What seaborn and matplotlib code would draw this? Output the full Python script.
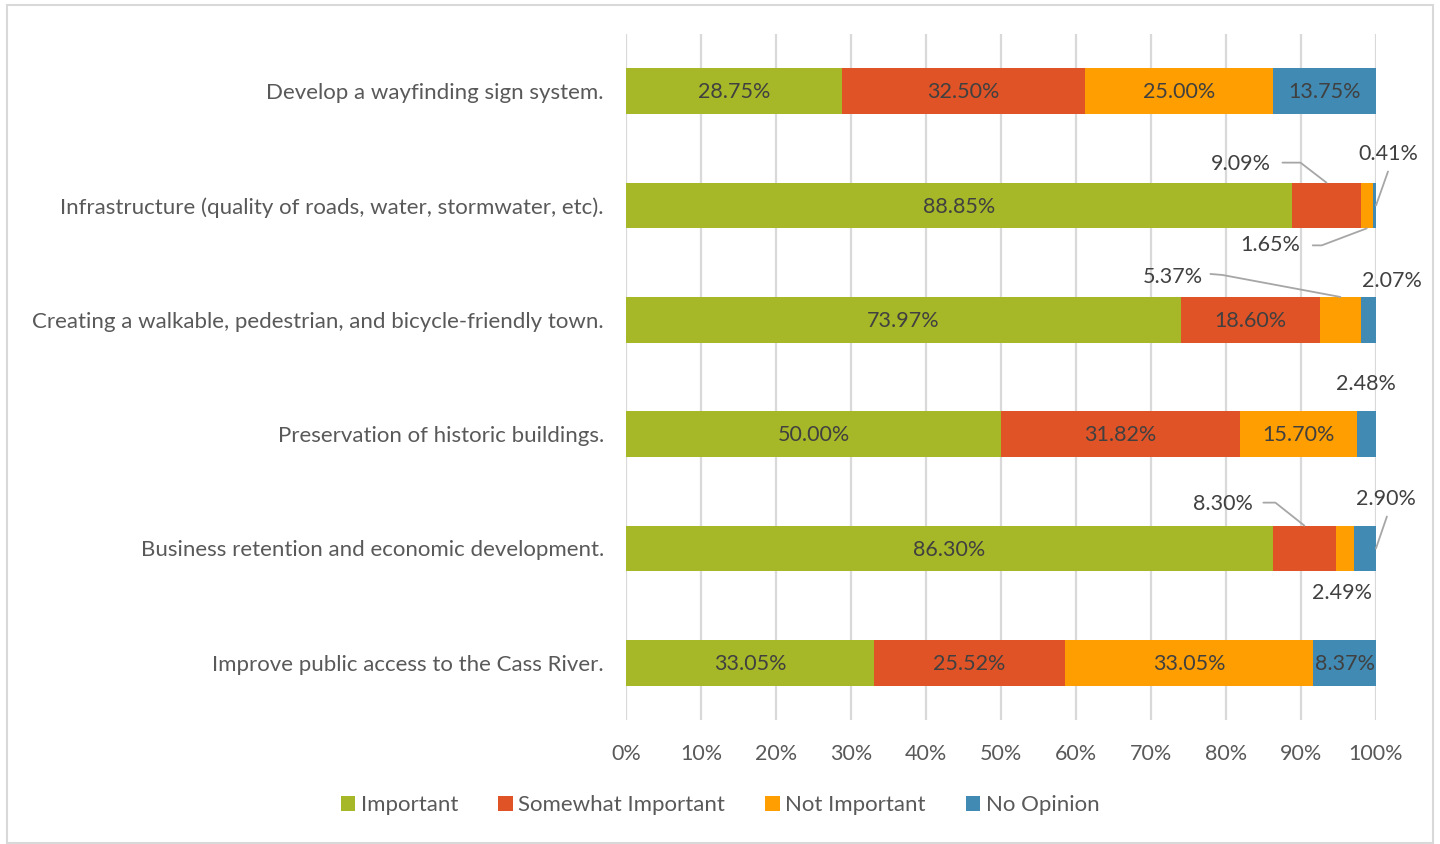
import numpy as np
import pandas as pd
import matplotlib
matplotlib.use("Agg")
import matplotlib.pyplot as plt
from matplotlib.patches import Rectangle, Patch
import seaborn as sns

# Survey items (top to bottom) and response shares in percent
items = [
    "Develop a wayfinding sign system.",
    "Infrastructure (quality of roads, water, stormwater, etc).",
    "Creating a walkable, pedestrian, and bicycle-friendly town.",
    "Preservation of historic buildings.",
    "Business retention and economic development.",
    "Improve public access to the Cass River.",
]
important = [28.75, 88.85, 73.97, 50.00, 86.30, 33.05]
somewhat_important = [32.50, 9.09, 18.60, 31.82, 8.30, 25.52]
not_important = [25.00, 1.65, 5.37, 15.70, 2.49, 33.05]
no_opinion = [13.75, 0.41, 2.07, 2.48, 2.90, 8.37]

series_names = ["Important", "Somewhat Important", "Not Important", "No Opinion"]
series_values = [important, somewhat_important, not_important, no_opinion]
colors = ["#A6B727", "#DF5327", "#FE9E00", "#418AB3"]

TEXT = "#404040"
AXIS_TEXT = "#595959"
GRID = "#D9D9D9"
LEADER = "#A6A6A6"

sns.set_theme(style="white")
plt.rcParams["font.family"] = ["Lato", "DejaVu Sans"]

W, H = 1440, 844
fig = plt.figure(figsize=(W / 100, H / 100), dpi=100)
ax_left, ax_right, ax_top, ax_bottom = 626, 1376, 34, 720
ax = fig.add_axes([ax_left / W, 1 - ax_bottom / H,
                   (ax_right - ax_left) / W, (ax_bottom - ax_top) / H])

# Stacked bars drawn as cumulative layers, longest first
values = np.array(series_values)            # shape (4, n_items)
cum = np.cumsum(values, axis=0)
bar_h = 0.40
for k in range(len(series_names) - 1, -1, -1):
    df = pd.DataFrame({"item": items, "value": cum[k]})
    sns.barplot(data=df, x="value", y="item", order=items, orient="h",
                color=colors[k], width=bar_h, saturation=1, ax=ax,
                edgecolor="none", linewidth=0, zorder=3)

ax.set_xlim(0, 100)
ax.set_ylim(len(items) - 0.5, -0.5)
ax.set_xticks(np.arange(0, 101, 10))
ax.set_xticklabels([f"{t}%" for t in range(0, 101, 10)])
ax.set_xlabel("")
ax.set_ylabel("")
for s in ax.spines.values():
    s.set_visible(False)
ax.grid(axis="x", color=GRID, linewidth=1.6, zorder=0)
ax.grid(axis="y", visible=False)
ax.set_axisbelow(True)
ax.tick_params(axis="x", length=0, pad=17, labelsize=15.5, labelcolor=AXIS_TEXT)
ax.tick_params(axis="y", length=0, pad=16, labelsize=16, labelcolor=AXIS_TEXT)
for t in ax.get_xticklabels():
    t.set_clip_on(False)

LABEL_SIZE = 15.5

# pixel -> data scale for placing callout labels
sx = 100 / (ax_right - ax_left)
sy = len(items) / (ax_bottom - ax_top)

def off(anchor, d):
    return anchor[0] + d[0] * sx, anchor[1] + d[1] * sy

# Callouts for thin segments: (row, series) -> anchor side, text offset px, leader offsets px
callouts = {
    (1, 1): ("top", (-86, -19), [(-44, -20), (-26, -20), (0, 0)]),
    (1, 2): ("bottom", (-97, 17), [(-54, 17), (-45, 17), (0, 0)]),
    (1, 3): ("right", (12, -52), [(12, -34), (0, 0)]),
    (2, 2): ("top", (-168, -20), [(-130, -23), (-118, -22), (0, 0)]),
    (2, 3): ("top", (24, -16), None),
    (3, 3): ("top", (-1, -27), None),
    (4, 1): ("top", (-81, -22), [(-41, -23), (-29, -23), (0, 0)]),
    (4, 3): ("right", (10, -50), [(11, -32), (0, 0)]),
    (4, 2): ("bottom", (-3, 22), None),
}

for k in range(len(series_names)):
    for i in range(len(items)):
        v = values[k, i]
        start = cum[k, i] - v
        center = start + v / 2
        label = f"{v:.2f}%"
        if (i, k) in callouts:
            side, toff, leader = callouts[(i, k)]
            if side == "top":
                anchor = (center, i - bar_h / 2)
            elif side == "bottom":
                anchor = (center, i + bar_h / 2)
            else:
                anchor = (cum[k, i], i)
            tx, ty = off(anchor, toff)
            ax.text(tx, ty, label, ha="center", va="center", fontsize=LABEL_SIZE,
                    color=TEXT, zorder=5, clip_on=False)
            if leader:
                pts = [off(anchor, p) for p in leader]
                ax.plot([p[0] for p in pts], [p[1] for p in pts], color=LEADER,
                        linewidth=1.3, zorder=4, clip_on=False)
        else:
            ax.text(center, i + 0.01, label, ha="center", va="center",
                    fontsize=LABEL_SIZE, color=TEXT, zorder=5)

# Legend
handles = [Patch(facecolor=c, edgecolor="none", label=n)
           for c, n in zip(colors, series_names)]
leg = fig.legend(handles=handles, loc="center", ncol=4,
                 bbox_to_anchor=(0.5, 1 - 805 / H), frameon=False,
                 fontsize=16, handlelength=0.65, handleheight=0.65,
                 handletextpad=0.25, columnspacing=1.8, labelcolor=AXIS_TEXT)

# Chart area frame
fig.patches.append(Rectangle((7 / W, 1 / H), 1426 / W, 838 / H,
                             transform=fig.transFigure, fill=False,
                             edgecolor=GRID, linewidth=1.5))

fig.savefig("out.png", dpi=100)
